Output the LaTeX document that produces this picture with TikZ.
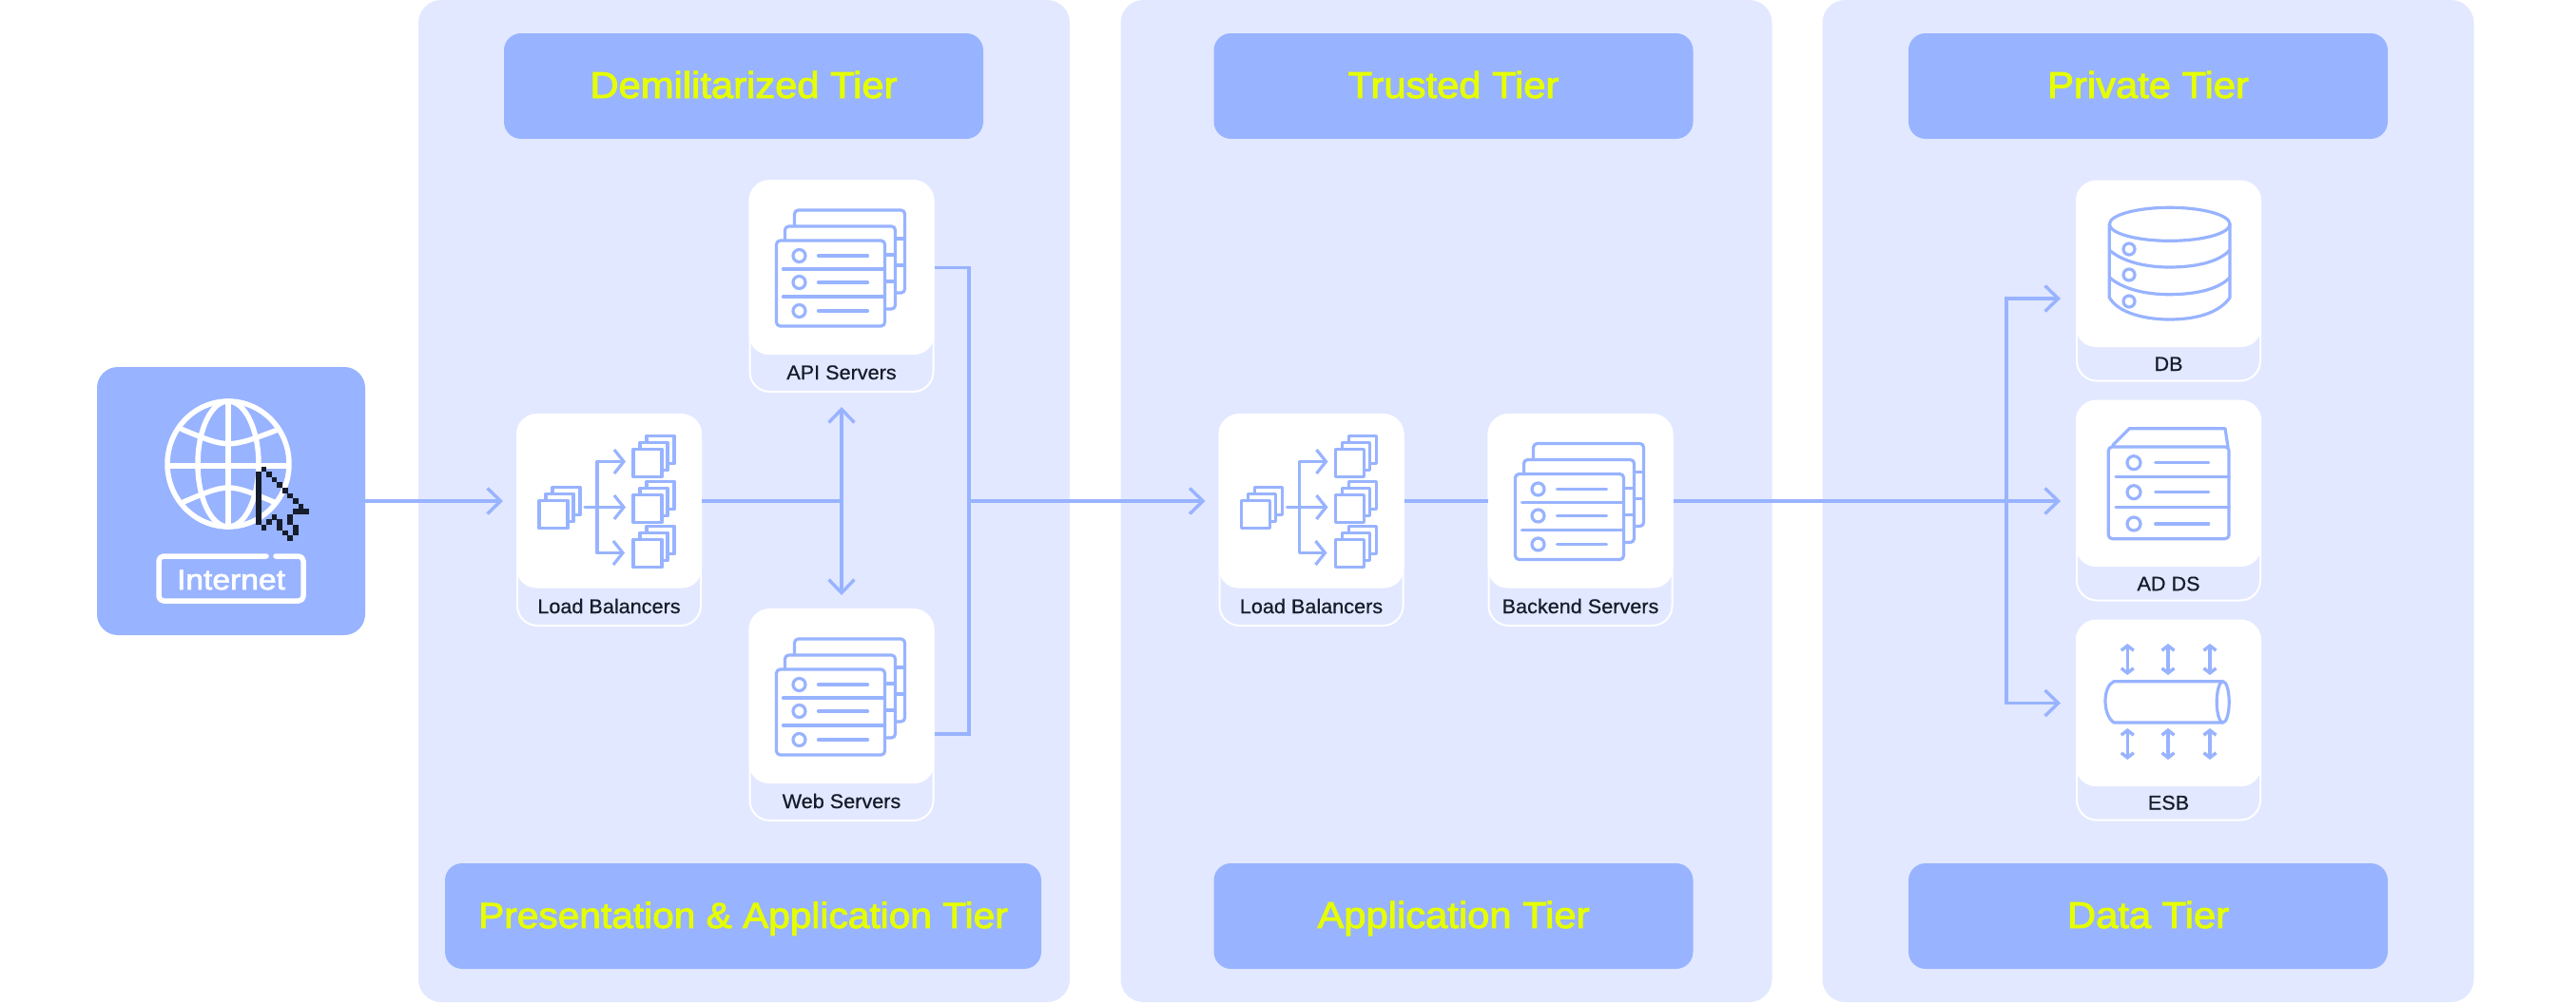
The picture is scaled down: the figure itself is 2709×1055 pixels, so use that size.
\documentclass[tikz,border=0pt]{standalone}
\usepackage{fontspec}
\setmainfont{Liberation Sans}
\newfontfamily\titlefont[FakeBold=2.4,FakeStretch=1.07]{Liberation Sans}
\newfontfamily\cardfont[FakeBold=0.6,FakeStretch=1.03]{Liberation Sans}
\newfontfamily\chalkfont[FakeBold=2.4,FakeStretch=1.12]{Liberation Sans}
\usetikzlibrary{arrows.meta,positioning}
\definecolor{tierBlue}{HTML}{98B3FF}
\definecolor{tierPale}{HTML}{E2E8FF}
\definecolor{tierLime}{HTML}{E6FF00}
\definecolor{tierInk}{HTML}{151C2C}
\tikzset{
    >={Straight Barb[length=14pt,width=27pt]},
    every node/.append style={inner sep=0pt,outer sep=0pt,align=center},
    panel/.style={fill=tierPale,rounded corners=24pt,minimum width=685pt,minimum height=1054pt},
    tiertitle/.style={fill=tierBlue,rounded corners=18pt,minimum height=111pt,text=tierLime,text height=28pt,text depth=3pt,font=\titlefont\fontsize{39}{44}\selectfont},
    cardfoot/.style={draw=white,line width=2pt,fill=tierPale,rounded corners=21pt,minimum width=193pt},
    cardtop/.style={fill=white,rounded corners=21pt,minimum width=195pt,minimum height=183pt},
    cardtext/.style={text=tierInk,text height=15pt,text depth=0pt,font=\cardfont\fontsize{21}{25}\selectfont},
    link/.style={draw=tierBlue,line width=3.4pt},
    icon/.style={draw=tierBlue,line width=3.2pt,line cap=round,line join=round},
    chalk/.style={draw=white,line width=5.5pt,line cap=round,line join=round},
    pics/serverstack/.style={code={
        \draw[icon,fill=white,rounded corners=4pt] (48,31) rectangle (164,118);
        \draw[icon,fill=white,rounded corners=4pt] (38,48) rectangle (154,135);
        \draw[icon,fill=white,rounded corners=4pt] (29,63) rectangle (143,153);
        \draw[icon] (36,93) -- (143,93) (36,122) -- (143,122);
        \foreach \y in {79,107,137} {
            \draw[icon] (53,\y) circle (6.5pt);
            \draw[icon] (73,\y) -- (125,\y);
        }
        \draw[icon] (143,78) -- (154,78) (143,106) -- (154,106) (154,61) -- (164,61) (154,89) -- (164,89);
    }},
    pics/balancer/.style={code={
        \foreach \x/\y in {24/91,123/37,123/85,123/132} {
            \draw[icon,fill=white] (\x+14,\y-14) rectangle ++(29,29);
            \draw[icon,fill=white] (\x+7,\y-7) rectangle ++(29,29);
            \draw[icon,fill=white] (\x,\y) rectangle ++(30,29);
        }
        \draw[icon,-{Straight Barb[length=10pt,width=25pt]}] (85,98) -- (85,50) -- (115,50);
        \draw[icon,-{Straight Barb[length=10pt,width=25pt]}] (85,98) -- (85,146) -- (114,146);
        \draw[icon,-{Straight Barb[length=10pt,width=25pt]}] (72,98) -- (115,98);
    }},
    pics/database/.style={code={
        \draw[icon] (35.3,46) -- (35.3,123) .. controls (45,140) and (75,146) .. (98,146) .. controls (125,146) and (150,140) .. (162,123) -- (162,46);
        \draw[icon] (98.7,45.8) ellipse (63.3pt and 17.5pt);
        \foreach \y in {73,101.7} {
            \draw[icon] (35.3,\y) .. controls (50,\y+13) and (75,\y+18) .. (98,\y+18) .. controls (125,\y+18) and (150,\y+13) .. (162,\y);
        }
        \foreach \y in {72,99,127} {
            \draw[icon] (56,\y) circle (6pt);
        }
    }},
    pics/dirstore/.style={code={
        \draw[icon,rounded corners=4pt] (34.3,49) rectangle (161,145.7);
        \draw[icon] (38.7,47.3) -- (56.3,29.7) -- (157,29.7) -- (160,49);
        \draw[icon] (42,80.7) -- (161,80.7) (42,112.3) -- (161,112.3);
        \foreach \y in {65.7,96.7,130} {
            \draw[icon] (61,\y) circle (7pt);
            \draw[icon] (83.7,\y) -- (139.7,\y);
        }
    }},
    pics/servicebus/.style={code={
        \draw[icon] (154.7,64.7) -- (40,64.7) .. controls (28,70) and (28,100) .. (40,108) -- (154.7,108);
        \draw[icon] (154.7,86.35) ellipse (6.5pt and 21.7pt);
        \foreach \x in {54.3,97,141} {
            \draw[icon,line width=3.4pt,{Straight Barb[length=5pt,width=13pt]}-{Straight Barb[length=5pt,width=13pt]}] (\x,25) -- (\x,58);
            \draw[icon,line width=3.4pt,{Straight Barb[length=5pt,width=13pt]}-{Straight Barb[length=5pt,width=13pt]}] (\x,114) -- (\x,147);
        }
    }},
    pics/globe/.style={code={
        \draw[chalk] (138,102) ellipse (64pt and 66pt);
        \draw[chalk] (138,102) ellipse (32pt and 66pt);
        \draw[chalk] (138,36) -- (138,168) (75,104) -- (200,104);
        \draw[chalk] (89.7,65.7) .. controls (138,85.7) .. (191,65.7);
        \draw[chalk] (91,142) .. controls (138,122) .. (186,142);
        \draw[chalk,rounded corners=5pt] (188,199) -- (217,199) -- (217,246) -- (65,246) -- (65,199) -- (178,199);
    }},
    pics/pointer/.style={code={
        \foreach \c/\r in {1/0,0/1,0/2,0/3,0/4,0/5,0/6,0/7,0/8,0/9,0/10,2/1,3/2,4/3,5/4,6/5,7/6,8/7,7/8,8/8,9/8,6/9,6/10,7/11,7/12,6/13,5/12,4/10,4/11,3/9,2/10,1/11} {
            \fill[tierInk] (\c*5.58,\r*5.58) rectangle ++(5.65,5.65);
        }
    }},
}
\begin{document}
\begin{tikzpicture}[x=1pt,y=-1pt]
    \useasboundingbox (0,0) rectangle (2709,1055);
    \node[panel] (dmzpanel) at (782.5,527) {};
    \node[panel] (trustpanel) at (1521,527) {};
    \node[panel] (datapanel) at (2259,527) {};

    \node[tiertitle,minimum width=504pt] (dmztitle) at (782,90.5) {Demilitarized Tier};
    \node[tiertitle,minimum width=627pt,font=\titlefont\fontsize{38}{44}\selectfont] (prestitle) at (781.5,963.5) {Presentation \& Application Tier};
    \node[tiertitle,minimum width=504pt] (trusttitle) at (1528.5,90.5) {Trusted Tier};
    \node[tiertitle,minimum width=504pt] (apptitle) at (1528.5,963.5) {Application Tier};
    \node[tiertitle,minimum width=504pt] (privtitle) at (2259,90.5) {Private Tier};
    \node[tiertitle,minimum width=504pt] (datatitle) at (2259,963.5) {Data Tier};

    \node[fill=tierBlue,rounded corners=22pt,minimum width=282pt,minimum height=282pt] (internet) at (243,527) {};

    \node[cardfoot,minimum height=222pt] (lbonefoot) at (640.5,547) {};
    \node[cardtop] (lbone) at (640.5,527) {};
    \node[cardtext] (lbonetext) at (640.5,637.5) {Load Balancers};
    \node[cardfoot,minimum height=222pt] (apifoot) at (885,301) {};
    \node[cardtop] (api) at (885,281.5) {};
    \node[cardtext] (apitext) at (885,391.5) {API Servers};
    \node[cardfoot,minimum height=222pt] (webfoot) at (885,752) {};
    \node[cardtop] (web) at (885,732.5) {};
    \node[cardtext] (webtext) at (885,842.5) {Web Servers};

    \node[cardfoot,minimum height=222pt] (lbtwofoot) at (1379,547) {};
    \node[cardtop] (lbtwo) at (1379,527) {};
    \node[cardtext] (lbtwotext) at (1379,637.5) {Load Balancers};
    \node[cardfoot,minimum height=222pt] (backendfoot) at (1662,547) {};
    \node[cardtop] (backend) at (1662,527) {};
    \node[cardtext] (backendtext) at (1662,637.5) {Backend Servers};

    \node[cardfoot,minimum height=210pt] (dbfoot) at (2280.5,295.5) {};
    \node[cardtop,minimum height=175pt] (db) at (2280.5,277.5) {};
    \node[cardtext] (dbtext) at (2280.5,382.5) {DB};
    \node[cardfoot,minimum height=210pt] (adsfoot) at (2280.5,526.5) {};
    \node[cardtop,minimum height=175pt] (ads) at (2280.5,508.5) {};
    \node[cardtext] (adstext) at (2280.5,613.7) {AD DS};
    \node[cardfoot,minimum height=210pt] (esbfoot) at (2280.5,757.5) {};
    \node[cardtop,minimum height=175pt] (esb) at (2280.5,739.5) {};
    \node[cardtext] (esbtext) at (2280.5,844) {ESB};

    \coordinate (dmzbus) at (1019,527);
    \coordinate (webport) at (982.5,772);
    \coordinate (branch) at (2110,527);
    \coordinate (dbport) at (2183,314);
    \coordinate (adsport) at (2183,527);

    \draw[link,->,shorten >=14pt] (internet) -- (lbone);
    \draw[link] (lbone) -- (lbone -| api);
    \draw[link,<->,shorten <=16pt,shorten >=15pt] (apifoot) -- (web);
    \draw[link] (api) -| (dmzbus) |- (webport);
    \draw[link,->,shorten >=14pt] (dmzbus) -- (lbtwo);
    \draw[link] (lbtwo) -- (backend);
    \draw[link,->,shorten >=16pt] (backend) -- (adsport);
    \draw[link,->,shorten >=16pt] (branch) |- (dbport);
    \draw[link,->,shorten >=16pt] (branch) |- (esb);

    \pic at (lbone.north west) {balancer};
    \pic at (api.north west) {serverstack};
    \pic at (web.north west) {serverstack};
    \pic at (lbtwo.north west) {balancer};
    \pic at (backend.north west) {serverstack};
    \pic at (db.north west) {database};
    \pic at (ads.north west) {dirstore};
    \pic at (esb.north west) {servicebus};
    \pic at (internet.north west) {globe};
    \pic at (269,490.67) {pointer};
    \node[text=white,text height=22pt,text depth=0pt,font=\chalkfont\fontsize{30}{36}\selectfont] (internettext) at (243,609) {Internet};
\end{tikzpicture}
\end{document}
